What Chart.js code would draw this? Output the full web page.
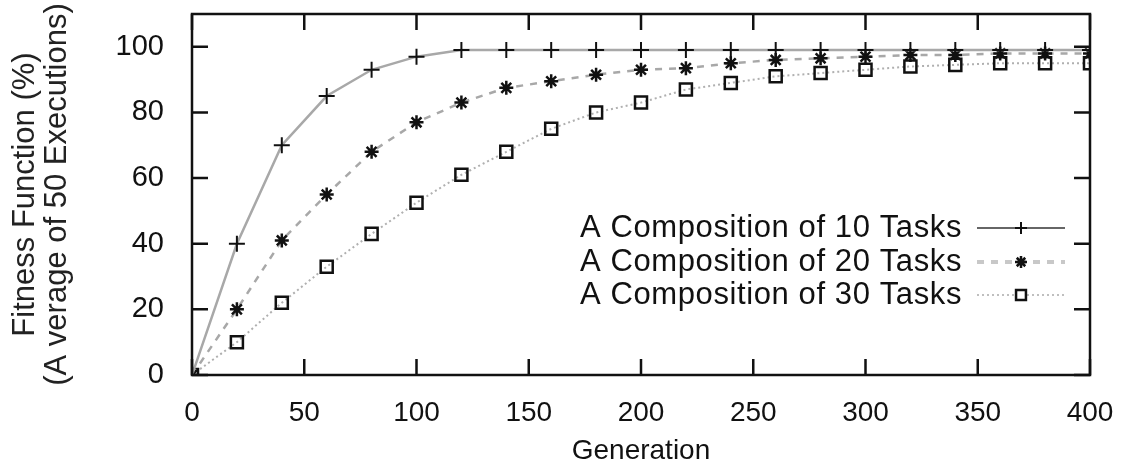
<!DOCTYPE html>
<html>
<head>
<meta charset="utf-8">
<script src="https://cdn.jsdelivr.net/npm/chart.js@4.4.1/dist/chart.umd.min.js"></script>
<style>
  html, body { margin: 0; padding: 0; background: #fff; }
  #wrap { width: 1122px; height: 468px; }
</style>
</head>
<body>
<div id="wrap"><canvas id="fitnessChart"></canvas></div>
<script>
// Data
const generations = [0, 20, 40, 60, 80, 100, 120, 140, 160, 180, 200, 220, 240, 260, 280, 300, 320, 340, 360, 380, 400];
const tasks10 = [0, 40, 70, 85, 93, 97, 99, 99, 99, 99, 99, 99, 99, 99, 99, 99, 99, 99, 99, 99, 99];
const tasks20 = [0, 20, 41, 55, 68, 77, 83, 87.5, 89.5, 91.5, 93, 93.5, 95, 96, 96.5, 97, 97.5, 97.5, 98, 98, 98];
const tasks30 = [0, 10, 22, 33, 43, 52.5, 61, 68, 75, 80, 83, 87, 89, 91, 92, 93, 94, 94.5, 95, 95, 95];
const seriesLabels = ['A Composition of 10 Tasks', 'A Composition of 20 Tasks', 'A Composition of 30 Tasks'];
const xTickValues = [0, 50, 100, 150, 200, 250, 300, 350, 400];
const yTickValues = [0, 20, 40, 60, 80, 100];

const FONT = "'Liberation Sans', Arial, sans-serif";
const toPoints = ys => generations.map((g, i) => ({ x: g, y: ys[i] }));

// gnuplot style frame with inward ticks
const framePlugin = {
    id: 'frame',
    afterDatasetsDraw(chart) {
        const { ctx, chartArea: a, scales } = chart;
        const len = 16;
        ctx.save();
        ctx.strokeStyle = '#111';
        ctx.lineWidth = 2.5;
        ctx.beginPath();
        xTickValues.forEach(v => {
            const px = scales.x.getPixelForValue(v);
            ctx.moveTo(px, a.bottom); ctx.lineTo(px, a.bottom - len);
            ctx.moveTo(px, a.top); ctx.lineTo(px, a.top + len);
        });
        yTickValues.forEach(v => {
            const py = scales.y.getPixelForValue(v);
            ctx.moveTo(a.left, py); ctx.lineTo(a.left + len, py);
            ctx.moveTo(a.right, py); ctx.lineTo(a.right - len, py);
        });
        ctx.stroke();
        ctx.strokeRect(a.left, a.top, a.right - a.left, a.bottom - a.top);
        ctx.restore();
    }
};

// key inside the plot, text left of the sample (gnuplot layout)
const keyPlugin = {
    id: 'key',
    afterDraw(chart) {
        const { ctx, chartArea: a } = chart;
        const textRight = a.right - 128;
        const sx0 = a.right - 113, sx1 = a.right - 25;
        const rows = [228, 262, 295];
        ctx.save();
        chart.data.datasets.forEach((ds, i) => {
            const y = rows[i];
            ctx.font = '31px ' + FONT;
            ctx.letterSpacing = '0.6px';
            ctx.fillStyle = '#111';
            ctx.textAlign = 'right';
            ctx.textBaseline = 'middle';
            ctx.fillText(ds.label, textRight, y);
            ctx.save();
            ctx.strokeStyle = ds.keyColor;
            ctx.lineWidth = ds.keyWidth;
            ctx.setLineDash(ds.borderDash || []);
            ctx.beginPath();
            ctx.moveTo(sx0, y); ctx.lineTo(sx1, y);
            ctx.stroke();
            ctx.restore();
            ctx.strokeStyle = '#111';
            ctx.fillStyle = '#fff';
            ctx.lineWidth = ds.pointBorderWidth;
            Chart.helpers.drawPoint(ctx, {
                pointStyle: ds.pointStyle,
                radius: ds.keyRadius,
                borderWidth: ds.pointBorderWidth
            }, (sx0 + sx1) / 2, y);
        });
        ctx.restore();
    }
};

const ctx = document.getElementById('fitnessChart').getContext('2d');
new Chart(ctx, {
    type: 'line',
    data: {
        datasets: [{
            label: seriesLabels[0],
            data: toPoints(tasks10),
            borderColor: '#a8a8a8',
            borderWidth: 2.5,
            pointStyle: 'cross',
            pointRadius: 8,
            pointBorderColor: '#111',
            pointBorderWidth: 2,
            keyColor: '#333', keyWidth: 1.5, keyRadius: 6
        }, {
            label: seriesLabels[1],
            data: toPoints(tasks20),
            borderColor: '#a8a8a8',
            borderWidth: 2.5,
            borderDash: [7, 7],
            pointStyle: 'star',
            pointRadius: 7,
            pointBorderColor: '#111',
            pointBorderWidth: 2.5,
            keyColor: '#c8c8c8', keyWidth: 4, keyRadius: 6
        }, {
            label: seriesLabels[2],
            data: toPoints(tasks30),
            borderColor: '#b0b0b0',
            borderWidth: 2,
            borderDash: [2, 3],
            pointStyle: 'rect',
            pointRadius: 8.5,
            pointBackgroundColor: 'rgba(255,255,255,0)',
            pointBorderColor: '#111',
            pointBorderWidth: 2.5,
            keyColor: '#aaa', keyWidth: 1.5, keyRadius: 7
        }]
    },
    options: {
        responsive: true,
        maintainAspectRatio: false,
        animation: false,
        layout: { padding: { top: 14, right: 32, left: 9, bottom: 0 } },
        plugins: { legend: { display: false }, tooltip: { enabled: false } },
        elements: { line: { tension: 0 } },
        scales: {
            x: {
                type: 'linear',
                min: 0, max: 400,
                grid: { display: false },
                border: { display: false },
                afterBuildTicks: s => { s.ticks = xTickValues.map(v => ({ value: v })); },
                afterFit: s => { s.height = 93; s.paddingLeft = 0; s.paddingRight = 0; },
                ticks: { color: '#111', padding: 13, maxRotation: 0, font: { family: FONT, size: 28 } },
                title: { display: true, text: 'Generation', color: '#111', padding: 0, font: { family: FONT, size: 28 } }
            },
            y: {
                min: 0, max: 110,
                grid: { display: false },
                border: { display: false },
                afterBuildTicks: s => { s.ticks = yTickValues.map(v => ({ value: v })); },
                afterFit: s => { s.width = 183; s.paddingTop = 0; s.paddingBottom = 0; },
                ticks: { color: '#111', padding: 20, font: { family: FONT, size: 29 } },
                title: {
                    display: true,
                    text: ['Fitness Function (%)', '(A verage of 50 Executions)'],
                    color: '#222',
                    padding: 0,
                    font: { family: FONT, size: 31, lineHeight: 1.05 }
                }
            }
        }
    },
    plugins: [framePlugin, keyPlugin]
});
</script>
</body>
</html>
